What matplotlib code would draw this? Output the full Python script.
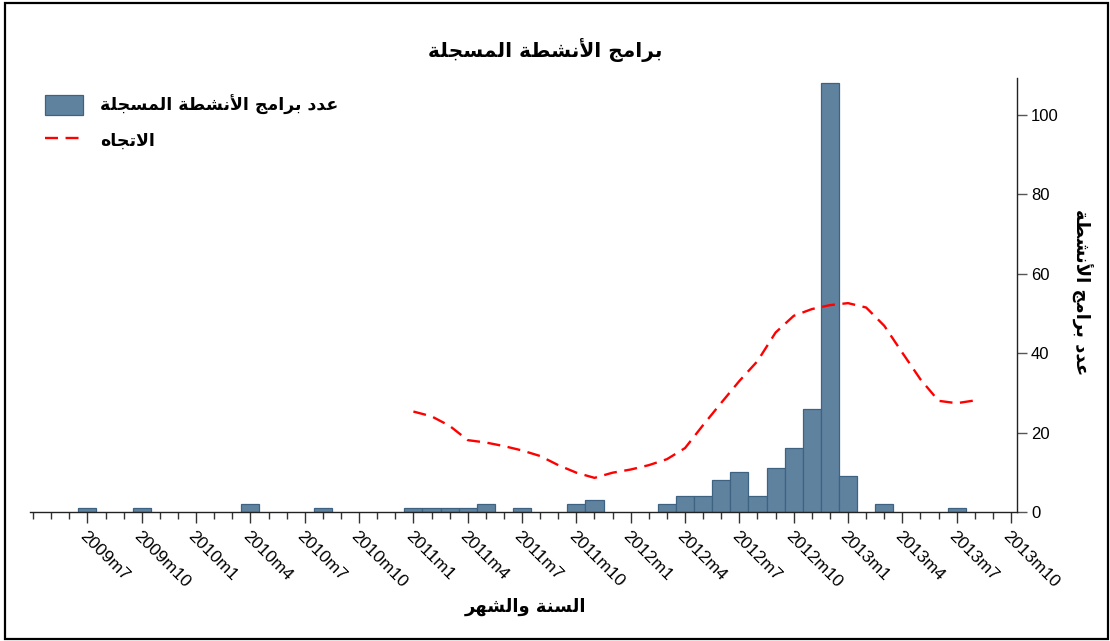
import matplotlib
matplotlib.use("Agg")
import matplotlib.pyplot as plt
from matplotlib.patches import Rectangle, Patch
from matplotlib.lines import Line2D
from matplotlib.ticker import MultipleLocator

# ---------------- data ----------------
bar_months = ["2009m7", "2009m10", "2010m4", "2010m8", "2011m1", "2011m2", "2011m3",
              "2011m4", "2011m5", "2011m7", "2011m10", "2011m11", "2012m3", "2012m4",
              "2012m5", "2012m6", "2012m7", "2012m8", "2012m9", "2012m10", "2012m11",
              "2012m12", "2013m1", "2013m3", "2013m7"]
bar_counts = [1, 1, 2, 1, 1, 1, 1, 1, 2, 1, 2, 3, 2, 4, 4, 8, 10, 4, 11, 16, 26, 108, 9, 2, 1]

trend_months = ["2011m1", "2011m2", "2011m3", "2011m4", "2011m5", "2011m6", "2011m7",
                "2011m8", "2011m9", "2011m10", "2011m11", "2011m12",
                "2012m1", "2012m2", "2012m3", "2012m4", "2012m5", "2012m6", "2012m7",
                "2012m8", "2012m9", "2012m10", "2012m11", "2012m12",
                "2013m1", "2013m2", "2013m3", "2013m4", "2013m5", "2013m6", "2013m7", "2013m8"]
trend_values = [25.3, 24.1, 21.7, 18.1, 17.5, 16.6, 15.5, 14.1, 11.8, 9.9, 8.6, 9.9,
                10.7, 11.8, 13.3, 16.1, 21.9, 27.5, 33.0, 38.0, 45.2, 49.4, 51.1, 52.1,
                52.6, 51.5, 46.9, 40.1, 33.4, 28.0, 27.4, 28.1]

tick_labels = ["2009m7", "2009m10", "2010m1", "2010m4", "2010m7", "2010m10", "2011m1",
               "2011m4", "2011m7", "2011m10", "2012m1", "2012m4", "2012m7", "2012m10",
               "2013m1", "2013m4", "2013m7", "2013m10"]
y_ticks = [0, 20, 40, 60, 80, 100]

title_text = "برامج الأنشطة المسجلة"
bar_label = "عدد برامج الأنشطة المسجلة"
trend_label = "الاتجاه"
x_title = "السنة والشهر"
y_title = "عدد برامج الأنشطة"

# ---------------- Arabic shaping ----------------
FORMS = {
    '\u0627': ('\uFE8D', '\uFE8E', None, None),
    '\u0623': ('\uFE83', '\uFE84', None, None),
    '\u0628': ('\uFE8F', '\uFE90', '\uFE91', '\uFE92'),
    '\u0629': ('\uFE93', '\uFE94', None, None),
    '\u062A': ('\uFE95', '\uFE96', '\uFE97', '\uFE98'),
    '\u062C': ('\uFE9D', '\uFE9E', '\uFE9F', '\uFEA0'),
    '\u062F': ('\uFEA9', '\uFEAA', None, None),
    '\u0631': ('\uFEAD', '\uFEAE', None, None),
    '\u0633': ('\uFEB1', '\uFEB2', '\uFEB3', '\uFEB4'),
    '\u0634': ('\uFEB5', '\uFEB6', '\uFEB7', '\uFEB8'),
    '\u0637': ('\uFEC1', '\uFEC2', '\uFEC3', '\uFEC4'),
    '\u0639': ('\uFEC9', '\uFECA', '\uFECB', '\uFECC'),
    '\u0644': ('\uFEDD', '\uFEDE', '\uFEDF', '\uFEE0'),
    '\u0645': ('\uFEE1', '\uFEE2', '\uFEE3', '\uFEE4'),
    '\u0646': ('\uFEE5', '\uFEE6', '\uFEE7', '\uFEE8'),
    '\u0647': ('\uFEE9', '\uFEEA', '\uFEEB', '\uFEEC'),
    '\u0648': ('\uFEED', '\uFEEE', None, None),
}
LAMALEF = {'\u0627': ('\uFEFB', '\uFEFC', None, None),
           '\u0623': ('\uFEF7', '\uFEF8', None, None)}


def ar(s):
    toks = []
    i = 0
    while i < len(s):
        c = s[i]
        if c == '\u0644' and i + 1 < len(s) and s[i + 1] in LAMALEF:
            toks.append(LAMALEF[s[i + 1]])
            i += 2
            continue
        toks.append(FORMS.get(c, c))
        i += 1
    out = []
    for k, t in enumerate(toks):
        if isinstance(t, str):
            out.append(t)
            continue
        prev = toks[k - 1] if k > 0 else None
        nxt = toks[k + 1] if k + 1 < len(toks) else None
        pj = isinstance(prev, tuple) and prev[2] is not None
        nj = isinstance(nxt, tuple) and t[2] is not None
        if pj and nj:
            out.append(t[3])
        elif pj:
            out.append(t[1])
        elif nj:
            out.append(t[2])
        else:
            out.append(t[0])
    return ''.join(out[::-1])


def midx(label):
    y, m = label.split('m')
    return (int(y) - 2009) * 12 + int(m)


# ---------------- figure ----------------
W, H = 1110, 641
fig = plt.figure(figsize=(W / 100, H / 100), dpi=100)
ax = fig.add_axes([30 / W, 1 - 512 / H, (1017 - 30) / W, (512 - 78) / H])

AR_FONT = ['DejaVu Sans']
TICK_FONT = 'Liberation Sans'
BAR_FC, BAR_EC = '#5f839f', '#3d6282'
TREND_LS = (0, (5.5, 3.2))

bx = [midx(m) for m in bar_months]
ax.bar(bx, bar_counts, width=1.0, color=BAR_FC, edgecolor=BAR_EC,
       linewidth=0.9, zorder=2)
tx = [midx(m) for m in trend_months]
ax.plot(tx, trend_values, color='#ff0000', lw=1.7, ls=TREND_LS, zorder=3)

ax.set_xlim(midx("2009m4") - 0.17, midx("2013m10") + 0.33)
ax.set_ylim(0, 109.3)

ax.spines['left'].set_visible(False)
ax.spines['top'].set_visible(False)
for s in ('bottom', 'right'):
    ax.spines[s].set_linewidth(1.0)
    ax.spines[s].set_color('#222222')

ax.yaxis.tick_right()
ax.set_yticks(y_ticks)
ax.set_yticklabels([str(v) for v in y_ticks], fontfamily=TICK_FONT, fontsize=12)
ax.tick_params(axis='y', which='major', length=7, width=1.0, color='#555555', pad=3)

ax.set_xticks([midx(l) for l in tick_labels])
ax.set_xticklabels(tick_labels, rotation=-45, ha='left', va='top',
                   rotation_mode='anchor', fontfamily=TICK_FONT, fontsize=12.5)
ax.xaxis.set_minor_locator(MultipleLocator(1))
ax.tick_params(axis='x', which='major', length=8, width=1.0, color='#333333', pad=4)
ax.tick_params(axis='x', which='minor', length=5, width=1.0, color='#333333')

# legend
handles = [Patch(facecolor=BAR_FC, edgecolor=BAR_EC, linewidth=0.9),
           Line2D([0], [0], color='#ff0000', lw=1.7, ls=TREND_LS)]
fig.legend(handles, [ar(bar_label), ar(trend_label)],
           loc='upper left', bbox_to_anchor=(45 / W, 1 - 95 / H),
           frameon=False, prop={'family': AR_FONT, 'weight': 'bold', 'size': 12.5},
           handlelength=2.2, handleheight=1.4, handletextpad=0.95,
           labelspacing=0.85, borderpad=0, borderaxespad=0)

fig.text(545 / W, 1 - 50 / H, ar(title_text), ha='center', va='center',
         family=AR_FONT, weight='bold', fontsize=14.5)
fig.text(525 / W, 1 - 607 / H, ar(x_title), ha='center', va='center',
         family=AR_FONT, weight='bold', fontsize=13)
fig.text(1082 / W, 1 - 292 / H, ar(y_title), ha='center', va='center', rotation=-90,
         family=AR_FONT, weight='bold', fontsize=13)

fig.add_artist(Rectangle((5 / W, 1 - 639 / H), (1108 - 5) / W, (639 - 3) / H,
                         transform=fig.transFigure, fill=False, lw=1.6, ec='black'))

fig.savefig('out.png', dpi=100)
